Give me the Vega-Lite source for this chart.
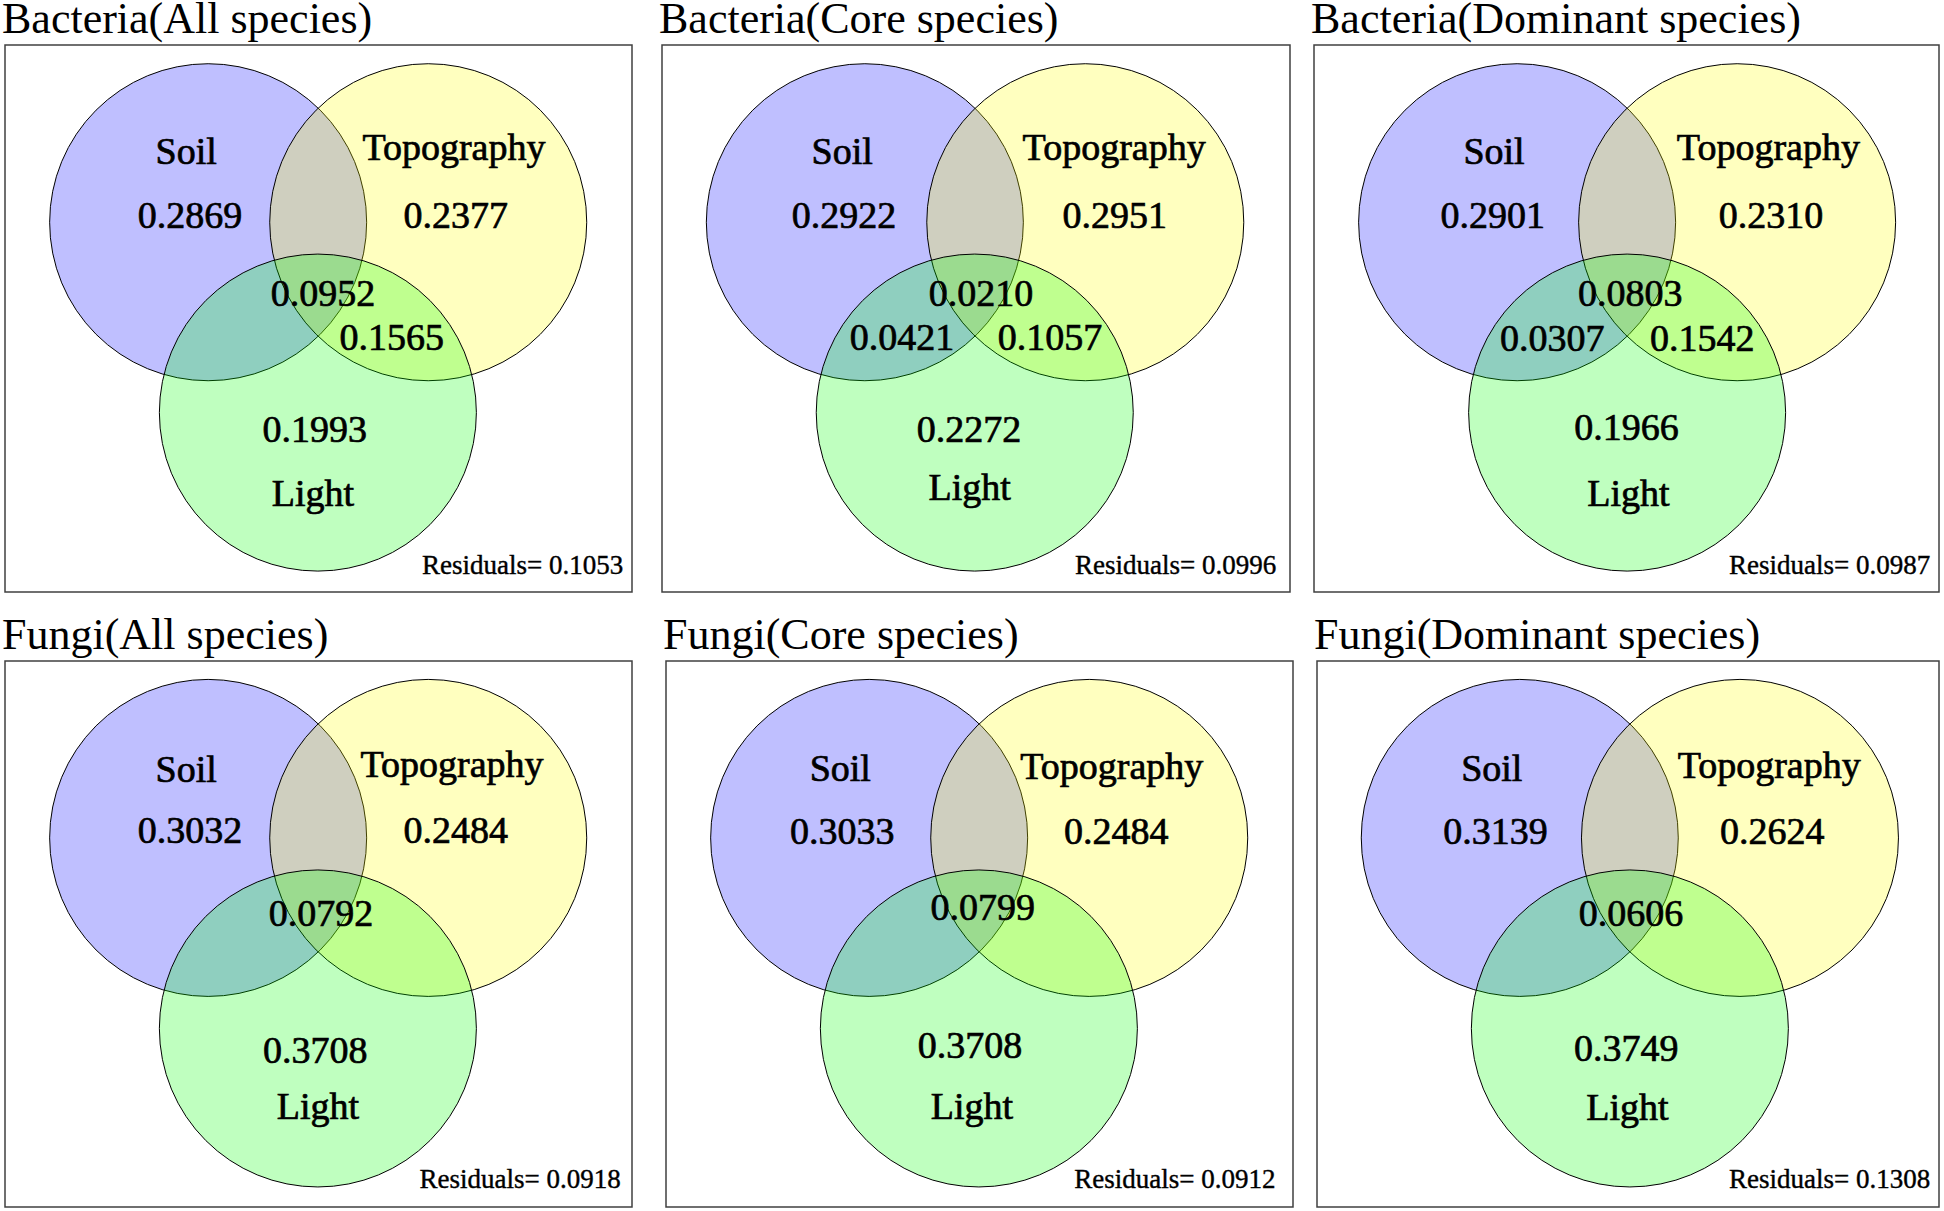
{
  "$schema": "https://vega.github.io/schema/vega-lite/v6.json",
  "background": "white",
  "padding": {"left": 1, "top": -3, "right": 0, "bottom": 0},
  "config": {
    "view": {"stroke": "#404040", "strokeWidth": 1.5},
    "title": {"font": "Liberation Serif", "fontSize": 44, "fontWeight": "normal", "anchor": "start", "color": "black", "offset": 3, "baseline": "alphabetic", "dx": -3},
    "text": {"font": "Liberation Serif", "color": "black", "baseline": "alphabetic", "stroke": "black", "strokeWidth": 0.7}
  },
  "datasets": {
    "circles": [
      {"panel": "P1", "set": "Soil", "x": 0.324, "y": 0.324, "r": 0.2528},
      {"panel": "P1", "set": "Topography", "x": 0.675, "y": 0.324, "r": 0.2528},
      {"panel": "P1", "set": "Light", "x": 0.499, "y": 0.672, "r": 0.2528},
      {"panel": "P2", "set": "Soil", "x": 0.323, "y": 0.324, "r": 0.2528},
      {"panel": "P2", "set": "Topography", "x": 0.674, "y": 0.324, "r": 0.2528},
      {"panel": "P2", "set": "Light", "x": 0.498, "y": 0.672, "r": 0.2528},
      {"panel": "P3", "set": "Soil", "x": 0.325, "y": 0.324, "r": 0.2528},
      {"panel": "P3", "set": "Topography", "x": 0.677, "y": 0.324, "r": 0.2528},
      {"panel": "P3", "set": "Light", "x": 0.501, "y": 0.672, "r": 0.2528},
      {"panel": "P4", "set": "Soil", "x": 0.324, "y": 0.324, "r": 0.2528},
      {"panel": "P4", "set": "Topography", "x": 0.675, "y": 0.324, "r": 0.2528},
      {"panel": "P4", "set": "Light", "x": 0.499, "y": 0.673, "r": 0.2528},
      {"panel": "P5", "set": "Soil", "x": 0.324, "y": 0.324, "r": 0.2528},
      {"panel": "P5", "set": "Topography", "x": 0.675, "y": 0.324, "r": 0.2528},
      {"panel": "P5", "set": "Light", "x": 0.499, "y": 0.673, "r": 0.2528},
      {"panel": "P6", "set": "Soil", "x": 0.326, "y": 0.324, "r": 0.2528},
      {"panel": "P6", "set": "Topography", "x": 0.680, "y": 0.324, "r": 0.2528},
      {"panel": "P6", "set": "Light", "x": 0.503, "y": 0.673, "r": 0.2528}
    ],
    "labels": [
      {"panel": "P1", "kind": "main", "text": "Soil", "x": 0.289, "y": 0.218},
      {"panel": "P1", "kind": "main", "text": "Topography", "x": 0.716, "y": 0.210},
      {"panel": "P1", "kind": "main", "text": "0.2869", "x": 0.295, "y": 0.335},
      {"panel": "P1", "kind": "main", "text": "0.2377", "x": 0.719, "y": 0.335},
      {"panel": "P1", "kind": "main", "text": "0.0952", "x": 0.507, "y": 0.478},
      {"panel": "P1", "kind": "main", "text": "0.1565", "x": 0.617, "y": 0.557},
      {"panel": "P1", "kind": "main", "text": "0.1993", "x": 0.494, "y": 0.725},
      {"panel": "P1", "kind": "main", "text": "Light", "x": 0.491, "y": 0.842},
      {"panel": "P1", "kind": "resid", "text": "Residuals= 0.1053", "x": 0.986, "y": 0.967},
      {"panel": "P2", "kind": "main", "text": "Soil", "x": 0.287, "y": 0.218},
      {"panel": "P2", "kind": "main", "text": "Topography", "x": 0.720, "y": 0.210},
      {"panel": "P2", "kind": "main", "text": "0.2922", "x": 0.290, "y": 0.335},
      {"panel": "P2", "kind": "main", "text": "0.2951", "x": 0.721, "y": 0.335},
      {"panel": "P2", "kind": "main", "text": "0.0210", "x": 0.508, "y": 0.478},
      {"panel": "P2", "kind": "main", "text": "0.0421", "x": 0.382, "y": 0.558},
      {"panel": "P2", "kind": "main", "text": "0.1057", "x": 0.618, "y": 0.558},
      {"panel": "P2", "kind": "main", "text": "0.2272", "x": 0.489, "y": 0.725},
      {"panel": "P2", "kind": "main", "text": "Light", "x": 0.490, "y": 0.831},
      {"panel": "P2", "kind": "resid", "text": "Residuals= 0.0996", "x": 0.978, "y": 0.967},
      {"panel": "P3", "kind": "main", "text": "Soil", "x": 0.288, "y": 0.218},
      {"panel": "P3", "kind": "main", "text": "Topography", "x": 0.727, "y": 0.210},
      {"panel": "P3", "kind": "main", "text": "0.2901", "x": 0.286, "y": 0.335},
      {"panel": "P3", "kind": "main", "text": "0.2310", "x": 0.731, "y": 0.335},
      {"panel": "P3", "kind": "main", "text": "0.0803", "x": 0.506, "y": 0.478},
      {"panel": "P3", "kind": "main", "text": "0.0307", "x": 0.381, "y": 0.559},
      {"panel": "P3", "kind": "main", "text": "0.1542", "x": 0.621, "y": 0.559},
      {"panel": "P3", "kind": "main", "text": "0.1966", "x": 0.500, "y": 0.722},
      {"panel": "P3", "kind": "main", "text": "Light", "x": 0.503, "y": 0.842},
      {"panel": "P3", "kind": "resid", "text": "Residuals= 0.0987", "x": 0.986, "y": 0.967},
      {"panel": "P4", "kind": "main", "text": "Soil", "x": 0.289, "y": 0.222},
      {"panel": "P4", "kind": "main", "text": "Topography", "x": 0.713, "y": 0.212},
      {"panel": "P4", "kind": "main", "text": "0.3032", "x": 0.295, "y": 0.333},
      {"panel": "P4", "kind": "main", "text": "0.2484", "x": 0.719, "y": 0.333},
      {"panel": "P4", "kind": "main", "text": "0.0792", "x": 0.504, "y": 0.485},
      {"panel": "P4", "kind": "main", "text": "0.3708", "x": 0.495, "y": 0.737},
      {"panel": "P4", "kind": "main", "text": "Light", "x": 0.499, "y": 0.838},
      {"panel": "P4", "kind": "resid", "text": "Residuals= 0.0918", "x": 0.982, "y": 0.965},
      {"panel": "P5", "kind": "main", "text": "Soil", "x": 0.278, "y": 0.220},
      {"panel": "P5", "kind": "main", "text": "Topography", "x": 0.711, "y": 0.217},
      {"panel": "P5", "kind": "main", "text": "0.3033", "x": 0.281, "y": 0.335},
      {"panel": "P5", "kind": "main", "text": "0.2484", "x": 0.718, "y": 0.335},
      {"panel": "P5", "kind": "main", "text": "0.0799", "x": 0.505, "y": 0.475},
      {"panel": "P5", "kind": "main", "text": "0.3708", "x": 0.485, "y": 0.728},
      {"panel": "P5", "kind": "main", "text": "Light", "x": 0.488, "y": 0.838},
      {"panel": "P5", "kind": "resid", "text": "Residuals= 0.0912", "x": 0.972, "y": 0.965},
      {"panel": "P6", "kind": "main", "text": "Soil", "x": 0.281, "y": 0.220},
      {"panel": "P6", "kind": "main", "text": "Topography", "x": 0.727, "y": 0.214},
      {"panel": "P6", "kind": "main", "text": "0.3139", "x": 0.287, "y": 0.335},
      {"panel": "P6", "kind": "main", "text": "0.2624", "x": 0.732, "y": 0.335},
      {"panel": "P6", "kind": "main", "text": "0.0606", "x": 0.505, "y": 0.485},
      {"panel": "P6", "kind": "main", "text": "0.3749", "x": 0.497, "y": 0.732},
      {"panel": "P6", "kind": "main", "text": "Light", "x": 0.499, "y": 0.840},
      {"panel": "P6", "kind": "resid", "text": "Residuals= 0.1308", "x": 0.986, "y": 0.965}
    ]
  },
  "vconcat": [
    {
      "spacing": 25,
      "hconcat": [
        {
          "width": 627, "height": 547, "title": "Bacteria(All species)",
          "layer": [
            {"data": {"name": "circles"}, "transform": [{"filter": "datum.panel === 'P1'"}],
             "mark": {"type": "point", "shape": "circle", "filled": true, "opacity": 1, "fillOpacity": 0.25, "stroke": "black", "strokeWidth": 1, "strokeOpacity": 1},
             "encoding": {
               "x": {"field": "x", "type": "quantitative", "scale": {"domain": [0, 1]}, "axis": null},
               "y": {"field": "y", "type": "quantitative", "scale": {"domain": [0, 1], "reverse": true}, "axis": null},
               "size": {"field": "r", "type": "quantitative", "scale": {"type": "pow", "exponent": 2, "domain": [0, 1], "range": [0, 1572516]}, "legend": null},
               "color": {"field": "set", "type": "nominal", "scale": {"domain": ["Soil", "Topography", "Light"], "range": ["#0000ff", "#ffff00", "#00ff00"]}, "legend": null}
             }},
            {"data": {"name": "labels"}, "transform": [{"filter": "datum.panel === 'P1' && datum.kind === 'main'"}],
             "mark": {"type": "text", "fontSize": 38, "align": "center"},
             "encoding": {"x": {"field": "x", "type": "quantitative"}, "y": {"field": "y", "type": "quantitative"}, "text": {"field": "text"}}},
            {"data": {"name": "labels"}, "transform": [{"filter": "datum.panel === 'P1' && datum.kind === 'resid'"}],
             "mark": {"type": "text", "fontSize": 27, "align": "right", "strokeWidth": 0.4},
             "encoding": {"x": {"field": "x", "type": "quantitative"}, "y": {"field": "y", "type": "quantitative"}, "text": {"field": "text"}}}
          ]
        },
        {
          "spacing": 19,
          "hconcat": [
            {
              "width": 628, "height": 547, "title": "Bacteria(Core species)",
              "layer": [
                {"data": {"name": "circles"}, "transform": [{"filter": "datum.panel === 'P2'"}],
                 "mark": {"type": "point", "shape": "circle", "filled": true, "opacity": 1, "fillOpacity": 0.25, "stroke": "black", "strokeWidth": 1, "strokeOpacity": 1},
                 "encoding": {
                   "x": {"field": "x", "type": "quantitative", "scale": {"domain": [0, 1]}, "axis": null},
                   "y": {"field": "y", "type": "quantitative", "scale": {"domain": [0, 1], "reverse": true}, "axis": null},
                   "size": {"field": "r", "type": "quantitative", "scale": {"type": "pow", "exponent": 2, "domain": [0, 1], "range": [0, 1572516]}, "legend": null},
                   "color": {"field": "set", "type": "nominal", "scale": {"domain": ["Soil", "Topography", "Light"], "range": ["#0000ff", "#ffff00", "#00ff00"]}, "legend": null}
                 }},
                {"data": {"name": "labels"}, "transform": [{"filter": "datum.panel === 'P2' && datum.kind === 'main'"}],
                 "mark": {"type": "text", "fontSize": 38, "align": "center"},
                 "encoding": {"x": {"field": "x", "type": "quantitative"}, "y": {"field": "y", "type": "quantitative"}, "text": {"field": "text"}}},
                {"data": {"name": "labels"}, "transform": [{"filter": "datum.panel === 'P2' && datum.kind === 'resid'"}],
                 "mark": {"type": "text", "fontSize": 27, "align": "right", "strokeWidth": 0.4},
                 "encoding": {"x": {"field": "x", "type": "quantitative"}, "y": {"field": "y", "type": "quantitative"}, "text": {"field": "text"}}}
              ]
            },
            {
              "width": 625, "height": 547, "title": "Bacteria(Dominant species)",
              "layer": [
                {"data": {"name": "circles"}, "transform": [{"filter": "datum.panel === 'P3'"}],
                 "mark": {"type": "point", "shape": "circle", "filled": true, "opacity": 1, "fillOpacity": 0.25, "stroke": "black", "strokeWidth": 1, "strokeOpacity": 1},
                 "encoding": {
                   "x": {"field": "x", "type": "quantitative", "scale": {"domain": [0, 1]}, "axis": null},
                   "y": {"field": "y", "type": "quantitative", "scale": {"domain": [0, 1], "reverse": true}, "axis": null},
                   "size": {"field": "r", "type": "quantitative", "scale": {"type": "pow", "exponent": 2, "domain": [0, 1], "range": [0, 1572516]}, "legend": null},
                   "color": {"field": "set", "type": "nominal", "scale": {"domain": ["Soil", "Topography", "Light"], "range": ["#0000ff", "#ffff00", "#00ff00"]}, "legend": null}
                 }},
                {"data": {"name": "labels"}, "transform": [{"filter": "datum.panel === 'P3' && datum.kind === 'main'"}],
                 "mark": {"type": "text", "fontSize": 38, "align": "center"},
                 "encoding": {"x": {"field": "x", "type": "quantitative"}, "y": {"field": "y", "type": "quantitative"}, "text": {"field": "text"}}},
                {"data": {"name": "labels"}, "transform": [{"filter": "datum.panel === 'P3' && datum.kind === 'resid'"}],
                 "mark": {"type": "text", "fontSize": 27, "align": "right", "strokeWidth": 0.4},
                 "encoding": {"x": {"field": "x", "type": "quantitative"}, "y": {"field": "y", "type": "quantitative"}, "text": {"field": "text"}}}
              ]
            }
          ]
        }
      ]
    },
    {
      "spacing": 29,
      "hconcat": [
        {
          "width": 627, "height": 546, "title": "Fungi(All species)",
          "layer": [
            {"data": {"name": "circles"}, "transform": [{"filter": "datum.panel === 'P4'"}],
             "mark": {"type": "point", "shape": "circle", "filled": true, "opacity": 1, "fillOpacity": 0.25, "stroke": "black", "strokeWidth": 1, "strokeOpacity": 1},
             "encoding": {
               "x": {"field": "x", "type": "quantitative", "scale": {"domain": [0, 1]}, "axis": null},
               "y": {"field": "y", "type": "quantitative", "scale": {"domain": [0, 1], "reverse": true}, "axis": null},
               "size": {"field": "r", "type": "quantitative", "scale": {"type": "pow", "exponent": 2, "domain": [0, 1], "range": [0, 1572516]}, "legend": null},
               "color": {"field": "set", "type": "nominal", "scale": {"domain": ["Soil", "Topography", "Light"], "range": ["#0000ff", "#ffff00", "#00ff00"]}, "legend": null}
             }},
            {"data": {"name": "labels"}, "transform": [{"filter": "datum.panel === 'P4' && datum.kind === 'main'"}],
             "mark": {"type": "text", "fontSize": 38, "align": "center"},
             "encoding": {"x": {"field": "x", "type": "quantitative"}, "y": {"field": "y", "type": "quantitative"}, "text": {"field": "text"}}},
            {"data": {"name": "labels"}, "transform": [{"filter": "datum.panel === 'P4' && datum.kind === 'resid'"}],
             "mark": {"type": "text", "fontSize": 27, "align": "right", "strokeWidth": 0.4},
             "encoding": {"x": {"field": "x", "type": "quantitative"}, "y": {"field": "y", "type": "quantitative"}, "text": {"field": "text"}}}
          ]
        },
        {
          "spacing": 19,
          "hconcat": [
            {
              "width": 627, "height": 546, "title": "Fungi(Core species)",
              "layer": [
                {"data": {"name": "circles"}, "transform": [{"filter": "datum.panel === 'P5'"}],
                 "mark": {"type": "point", "shape": "circle", "filled": true, "opacity": 1, "fillOpacity": 0.25, "stroke": "black", "strokeWidth": 1, "strokeOpacity": 1},
                 "encoding": {
                   "x": {"field": "x", "type": "quantitative", "scale": {"domain": [0, 1]}, "axis": null},
                   "y": {"field": "y", "type": "quantitative", "scale": {"domain": [0, 1], "reverse": true}, "axis": null},
                   "size": {"field": "r", "type": "quantitative", "scale": {"type": "pow", "exponent": 2, "domain": [0, 1], "range": [0, 1572516]}, "legend": null},
                   "color": {"field": "set", "type": "nominal", "scale": {"domain": ["Soil", "Topography", "Light"], "range": ["#0000ff", "#ffff00", "#00ff00"]}, "legend": null}
                 }},
                {"data": {"name": "labels"}, "transform": [{"filter": "datum.panel === 'P5' && datum.kind === 'main'"}],
                 "mark": {"type": "text", "fontSize": 38, "align": "center"},
                 "encoding": {"x": {"field": "x", "type": "quantitative"}, "y": {"field": "y", "type": "quantitative"}, "text": {"field": "text"}}},
                {"data": {"name": "labels"}, "transform": [{"filter": "datum.panel === 'P5' && datum.kind === 'resid'"}],
                 "mark": {"type": "text", "fontSize": 27, "align": "right", "strokeWidth": 0.4},
                 "encoding": {"x": {"field": "x", "type": "quantitative"}, "y": {"field": "y", "type": "quantitative"}, "text": {"field": "text"}}}
              ]
            },
            {
              "width": 622, "height": 546, "title": "Fungi(Dominant species)",
              "layer": [
                {"data": {"name": "circles"}, "transform": [{"filter": "datum.panel === 'P6'"}],
                 "mark": {"type": "point", "shape": "circle", "filled": true, "opacity": 1, "fillOpacity": 0.25, "stroke": "black", "strokeWidth": 1, "strokeOpacity": 1},
                 "encoding": {
                   "x": {"field": "x", "type": "quantitative", "scale": {"domain": [0, 1]}, "axis": null},
                   "y": {"field": "y", "type": "quantitative", "scale": {"domain": [0, 1], "reverse": true}, "axis": null},
                   "size": {"field": "r", "type": "quantitative", "scale": {"type": "pow", "exponent": 2, "domain": [0, 1], "range": [0, 1572516]}, "legend": null},
                   "color": {"field": "set", "type": "nominal", "scale": {"domain": ["Soil", "Topography", "Light"], "range": ["#0000ff", "#ffff00", "#00ff00"]}, "legend": null}
                 }},
                {"data": {"name": "labels"}, "transform": [{"filter": "datum.panel === 'P6' && datum.kind === 'main'"}],
                 "mark": {"type": "text", "fontSize": 38, "align": "center"},
                 "encoding": {"x": {"field": "x", "type": "quantitative"}, "y": {"field": "y", "type": "quantitative"}, "text": {"field": "text"}}},
                {"data": {"name": "labels"}, "transform": [{"filter": "datum.panel === 'P6' && datum.kind === 'resid'"}],
                 "mark": {"type": "text", "fontSize": 27, "align": "right", "strokeWidth": 0.4},
                 "encoding": {"x": {"field": "x", "type": "quantitative"}, "y": {"field": "y", "type": "quantitative"}, "text": {"field": "text"}}}
              ]
            }
          ]
        }
      ]
    }
  ],
  "spacing": 20
}
